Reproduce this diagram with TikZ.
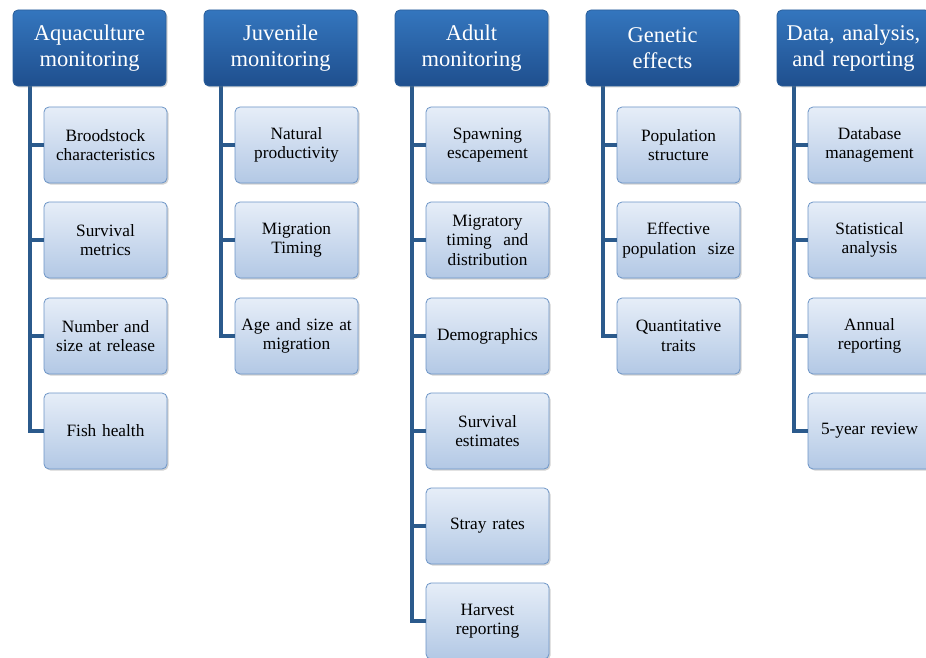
\documentclass[tikz,border=0pt]{standalone}
\usepackage{fontspec}
\setmainfont{Liberation Serif}
\usetikzlibrary{shadows}
\definecolor{hdtop}{HTML}{3476BE}
\definecolor{hdbot}{HTML}{1F4F8E}
\definecolor{hdline}{HTML}{2A5E9A}
\definecolor{chtop}{HTML}{E6EEF8}
\definecolor{chbot}{HTML}{B3C8E5}
\definecolor{chline}{HTML}{6D95C7}
\definecolor{trunk}{HTML}{2B5A8C}
\begin{document}
\begin{tikzpicture}[x=1pt,y=-1pt,
  header/.style={draw=hdline, line width=0.8pt, rounded corners=5pt, top color=hdtop, bottom color=hdbot,
    minimum width=153pt, minimum height=76pt, text width=152pt, align=center, text=white,
    font=\fontsize{22.5}{25.5}\selectfont, inner sep=0pt,
    drop shadow={shadow xshift=1.5pt, shadow yshift=-1.5pt, opacity=0.35}},
  child/.style={draw=chline, line width=0.8pt, rounded corners=5pt, top color=chtop, bottom color=chbot,
    minimum width=123pt, minimum height=76pt, text width=122pt, align=center, text=black,
    font=\fontsize{17.3}{19.5}\selectfont, inner sep=0pt,
    drop shadow={shadow xshift=1.5pt, shadow yshift=-1.5pt, opacity=0.35}},
  conn/.style={draw=trunk, line width=3.2pt}
]
\useasboundingbox (0,0) rectangle (926,658);
\fill[white] (0,0) rectangle (926,658);

% column 1
\coordinate (t1) at (30,86);
\node[child] (c11) at (105.5,145) {Broodstock\\characteristics};
\node[child] (c12) at (105.5,240) {Survival\\metrics};
\node[child] (c13) at (105.5,336) {Number and\\size at release};
\node[child] (c14) at (105.5,431) {Fish health};
\draw[conn] (t1) |- (c14.west);
\foreach \k in {1,2,3} {\draw[conn] (t1 |- c1\k.west) -- (c1\k.west);}
\node[header] (h1) at (89.5,48) {Aquaculture\\monitoring};

% column 2
\coordinate (t2) at (221,86);
\node[child] (c21) at (296.5,145) {Natural\\productivity};
\node[child] (c22) at (296.5,240) {Migration\\Timing};
\node[child] (c23) at (296.5,336) {Age and size at\\migration};
\draw[conn] (t2) |- (c23.west);
\foreach \k in {1,2} {\draw[conn] (t2 |- c2\k.west) -- (c2\k.west);}
\node[header] (h2) at (280.5,48) {Juvenile\\monitoring};

% column 3
\coordinate (t3) at (412,86);
\node[child] (c31) at (487.5,145) {Spawning\\escapement};
\node[child] (c32) at (487.5,240) {Migratory\\timing\ \ and\\distribution};
\node[child] (c33) at (487.5,336) {Demographics};
\node[child] (c34) at (487.5,431) {Survival\\estimates};
\node[child] (c35) at (487.5,526) {Stray rates};
\node[child] (c36) at (487.5,621) {Harvest\\reporting};
\draw[conn] (t3) |- (c36.west);
\foreach \k in {1,2,3,4,5} {\draw[conn] (t3 |- c3\k.west) -- (c3\k.west);}
\node[header] (h3) at (471.5,48) {Adult\\monitoring};

% column 4
\coordinate (t4) at (603,86);
\node[child] (c41) at (678.5,145) {Population\\structure};
\node[child] (c42) at (678.5,240) {Effective\\population\ \ size};
\node[child] (c43) at (678.5,336) {Quantitative\\traits};
\draw[conn] (t4) |- (c43.west);
\foreach \k in {1,2} {\draw[conn] (t4 |- c4\k.west) -- (c4\k.west);}
\node[header] (h4) at (662.5,48) {Genetic\\effects};

% column 5
\coordinate (t5) at (794,86);
\node[child] (c51) at (869.5,145) {Database\\management};
\node[child] (c52) at (869.5,240) {Statistical\\analysis};
\node[child] (c53) at (869.5,336) {Annual\\reporting};
\node[child] (c54) at (869.5,431) {5-year review};
\draw[conn] (t5) |- (c54.west);
\foreach \k in {1,2,3} {\draw[conn] (t5 |- c5\k.west) -- (c5\k.west);}
\node[header] (h5) at (853.5,48) {Data, analysis,\\and reporting};
\end{tikzpicture}
\end{document}
